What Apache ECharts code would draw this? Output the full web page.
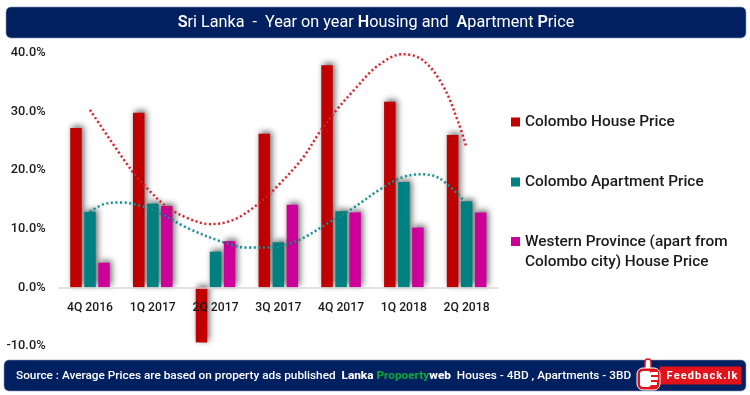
<!DOCTYPE html>
<html><head><meta charset="utf-8">
<style>html,body{margin:0;padding:0;background:#fff}#c{width:750px;height:395px}</style>
<script src="https://cdn.jsdelivr.net/npm/echarts@6/dist/echarts.min.js"></script></head>
<body><div id="c"></div>
<script>
const categories=['4Q 2016','1Q 2017','2Q 2017','3Q 2017','4Q 2017','1Q 2018','2Q 2018'];
const colomboHouse=[27.2,29.8,-9.4,26.2,37.9,31.7,26.0];
const colomboApartment=[12.9,14.3,6.1,7.7,13.0,18.0,14.7];
const westernProvince=[4.2,13.9,7.9,14.1,12.8,10.2,12.8];
const houseTrend=[[0,30.3],[0.66,20.0],[0.93,16.7],[1.22,13.8],[1.54,11.9],[1.91,10.8],[2.28,11.5],[2.65,14.0],[2.97,17.1],[3.39,22.1],[3.66,26.5],[3.93,30.3],[4.25,34.2],[4.57,37.7],[4.98,39.8],[5.30,38.8],[5.62,34.5],[5.86,28.4],[6.0,23.8]];
const apartmentTrend=[[0,12.9],[0.22,14.2],[0.49,14.5],[0.81,13.9],[1.13,12.6],[1.54,10.2],[2.1,7.8],[2.5,6.8],[2.9,6.8],[3.35,8.2],[3.78,10.9],[4.2,13.6],[4.63,16.8],[4.98,18.8],[5.28,19.3],[5.57,18.6],[5.94,15.0]];
const names=['Colombo House Price','Colombo Apartment Price','Western Province (apart from\nColombo city) House Price'];
const colors=['#c00000','#008080','#cc0099'];
const FONT='Roboto';
const navy='#002060';
const chart=echarts.init(document.getElementById('c'),null,{renderer:'canvas'});
const shadow={shadowColor:'rgba(0,0,0,0.6)',shadowBlur:6,shadowOffsetX:2,shadowOffsetY:-2};
const bar=(i,d)=>({name:names[i],type:'bar',data:d,barWidth:11.5,barGap:'22%',itemStyle:Object.assign({color:colors[i]},shadow),z:2});
const trend=(d,c)=>({type:'line',xAxisIndex:1,data:d,smooth:0.35,symbol:'none',silent:true,z:4,
  lineStyle:{color:c,width:2.4,type:[2,2.6],shadowColor:'rgba(0,0,0,0.18)',shadowBlur:3}});
const leg=(i,top,extra)=>Object.assign({data:[names[i]],left:511,top,padding:0,itemWidth:9,itemHeight:9,icon:'rect',
  itemStyle:{shadowBlur:0,shadowOffsetX:0,shadowOffsetY:0,shadowColor:'transparent'},
  textStyle:{fontFamily:FONT,fontSize:15.4,fontWeight:500,color:'#1a1a1a',lineHeight:20},selectedMode:false},extra||{});
chart.setOption({
  animation:false,backgroundColor:'#fff',
  grid:{left:58.6,right:252,top:53,bottom:49,containLabel:false},
  legend:[leg(0,112),leg(1,172),leg(2,232,{itemHeight:30,icon:'path://M0,0H9V9H0Z M9,30Z'})],
  xAxis:[
   {type:'category',data:categories,z:5,axisTick:{show:false},axisLine:{onZero:true,lineStyle:{color:'#d9d9d9',width:1.5}},
    axisLabel:{fontFamily:FONT,fontSize:12.2,fontWeight:500,color:'#1a1a1a',margin:-44,interval:0}},
   {type:'value',min:-0.5,max:6.5,show:false}
  ],
  yAxis:{type:'value',min:-10,max:40,interval:10,axisLine:{show:false},axisTick:{show:false},splitLine:{show:false},
    axisLabel:{fontFamily:FONT,fontSize:12.8,fontWeight:500,color:'#1a1a1a',margin:13,padding:[2,0,0,0],formatter:v=>v.toFixed(1)+'%'}},
  series:[bar(0,colomboHouse),bar(1,colomboApartment),bar(2,westernProvince),trend(houseTrend,'#d8202c'),trend(apartmentTrend,'#129090')],
  graphic:[
   {type:'rect',shape:{x:6,y:7,width:740,height:31,r:5},style:{fill:navy,stroke:'#8a97b8',lineWidth:0.6},z:1},
   {type:'text',x:376,y:23,z:3,style:{align:'center',verticalAlign:'middle',fill:'#fff',fontFamily:FONT,fontSize:16.2,
     text:'{b|S}ri Lanka  -  Year on year {b|H}ousing and  {b|A}partment {b|P}rice',
     rich:{b:{fontFamily:FONT,fontSize:16.2,fontWeight:600,fill:'#fff'}}}},
   {type:'rect',shape:{x:4,y:360,width:742,height:31,r:5},style:{fill:navy,stroke:'#8a97b8',lineWidth:0.6},z:1},
   {type:'text',x:16,y:376,z:3,style:{align:'left',verticalAlign:'middle',fill:'#fff',fontFamily:FONT,fontSize:11.8,fontWeight:500,
     text:'Source : Average Prices are based on property ads published  {w|Lanka }{g|Propoerty}{w|web}  Houses - 4BD , Apartments - 3BD',
     rich:{w:{fontFamily:FONT,fontSize:11.8,fontWeight:800,fill:'#fff'},g:{fontFamily:FONT,fontSize:11.8,fontWeight:800,fill:'#0fa03c'}}}},
   {type:'rect',shape:{x:660,y:367,width:81,height:17},style:{fill:'#e3131b',stroke:'#e3131b',lineWidth:1},z:4},
   {type:'text',x:702,y:376,z:5,style:{align:'center',verticalAlign:'middle',fill:'#fff',fontFamily:FONT,fontSize:11,fontWeight:700,text:'F e e d b a c k . l k'.replace(/ /g,'\u200a')}},
   {type:'rect',shape:{x:645,y:359,width:6,height:12,r:3},style:{fill:'#fff',stroke:'#e3131b',lineWidth:1.5},z:4},
   {type:'rect',shape:{x:637,y:368,width:23,height:22,r:6},style:{fill:'#e3131b',stroke:'#fff',lineWidth:1},z:4},
   {type:'rect',shape:{x:640,y:371,width:11,height:16,r:3},style:{fill:'#fff'},z:5},
   {type:'rect',shape:{x:651,y:372,width:7,height:3},style:{fill:'#fff'},z:5},
   {type:'rect',shape:{x:651,y:377,width:7,height:3},style:{fill:'#fff'},z:5},
   {type:'rect',shape:{x:651,y:382,width:6,height:3},style:{fill:'#fff'},z:5}
  ]
});
</script></body></html>
